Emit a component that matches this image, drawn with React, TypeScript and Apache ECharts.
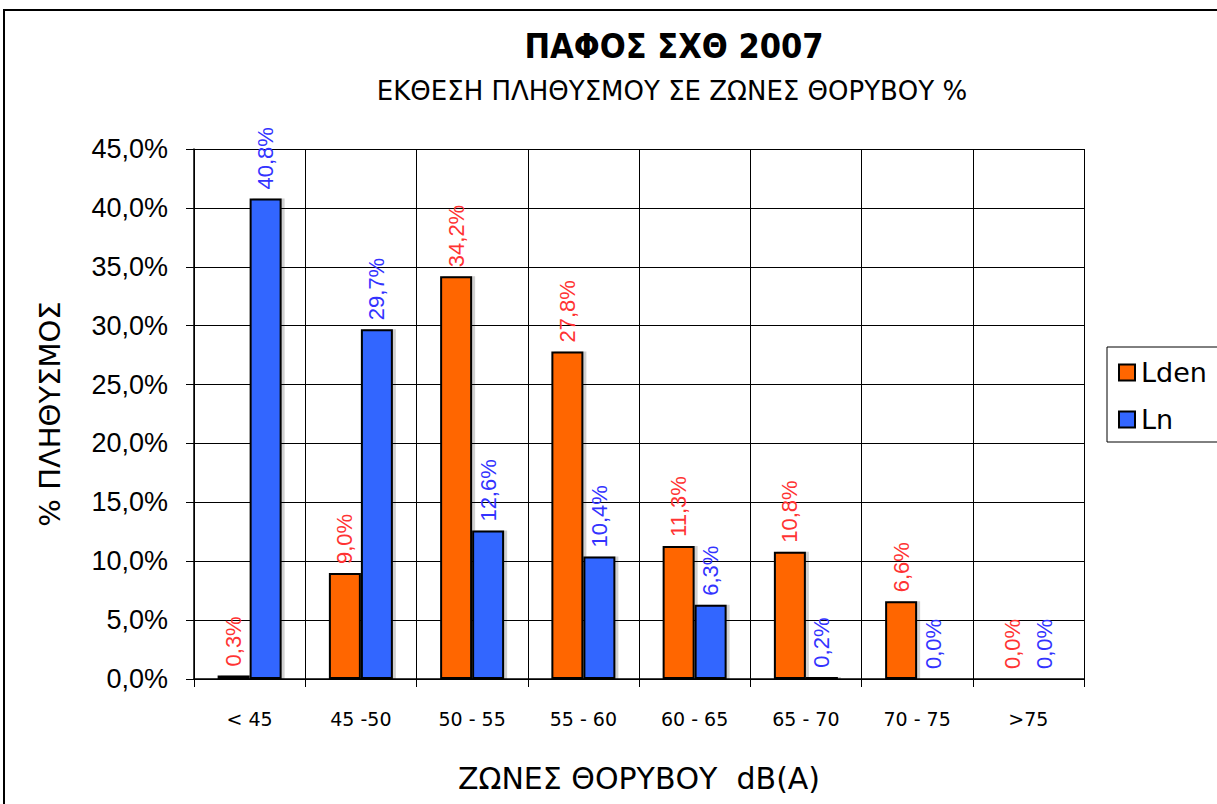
import React, { useEffect, useRef } from "react";
import * as echarts from "echarts";

const categories = ["< 45", "45 -50", "50 - 55", "55 - 60", "60 - 65", "65 - 70", "70 - 75", ">75"];
const ldenValues = [0.3, 9.0, 34.2, 27.8, 11.3, 10.8, 6.6, 0.0];
const lnValues = [40.8, 29.7, 12.6, 10.4, 6.3, 0.2, 0.0, 0.0];
const seriesNames = ["Lden", "Ln"];
const seriesColors = ["#FF6600", "#3366FF"];
const labelColors = ["#FF3333", "#3333FF"];

const fmt = (v: number) => v.toFixed(1).replace(".", ",") + "%";

export default function App() {
  const ref = useRef<HTMLDivElement>(null);
  useEffect(() => {
    if (!ref.current) return;
    const chart = echarts.init(ref.current, undefined, { renderer: "svg" });
    const font = "'Liberation Sans', Arial, sans-serif";
    const wide = "'DejaVu Sans', sans-serif";
    const mkSeries = (i: number, data: number[]) => ({
      name: seriesNames[i],
      type: "bar",
      data,
      barWidth: 32,
      barGap: "0%",
      itemStyle: {
        color: seriesColors[i],
        borderColor: "#000",
        borderWidth: 2,
        shadowColor: "rgba(0,0,0,0.18)",
        shadowOffsetX: 3,
        shadowOffsetY: 0,
        shadowBlur: 0,
      },
      label: {
        show: true,
        position: "top",
        rotate: 90,
        align: "left",
        verticalAlign: "middle",
        distance: 9,
        color: labelColors[i],
        fontFamily: font,
        fontSize: 22,
        formatter: (p: any) => fmt(p.value),
      },
    });
    chart.setOption({
      animation: false,
      backgroundColor: "#fff",
      textStyle: { fontFamily: font },
      title: [
        {
          text: "ΠΑΦΟΣ ΣΧΘ 2007",
          left: 669,
          top: 24,
          textAlign: "center",
          textStyle: { fontFamily: "'DejaVu Sans Condensed', 'DejaVu Sans', sans-serif", fontWeight: "bold", fontSize: 34, color: "#000" },
        },
        {
          text: "ΕΚΘΕΣΗ ΠΛΗΘΥΣΜΟΥ ΣΕ ΖΩΝΕΣ ΘΟΡΥΒΟΥ %",
          left: 667,
          top: 73,
          textAlign: "center",
          textStyle: { fontFamily: wide, fontWeight: "normal", fontSize: 26, color: "#000" },
        },
      ],
      graphic: [
        {
          type: "rect",
          shape: { x: 4, y: 10, width: 1230, height: 820 },
          style: { fill: "none", stroke: "#000", lineWidth: 2 },
          silent: true,
          z: -10,
        },
      ],
      legend: {
        orient: "vertical",
        left: 1107,
        top: 347,
        data: seriesNames,
        icon: "rect",
        itemWidth: 16,
        itemHeight: 16,
        itemGap: 20,
        padding: [12, 40, 9, 11],
        borderColor: "#000",
        borderWidth: 1,
        itemStyle: { borderColor: "#000", borderWidth: 2 },
        textStyle: { fontFamily: wide, fontSize: 27, color: "#000", padding: [0, 0, 0, 1] },
      },
      grid: { left: 194, top: 149, width: 890, height: 530, containLabel: false, outerBoundsMode: "none" },
      xAxis: {
        type: "category",
        data: categories,
        boundaryGap: true,
        name: "ΖΩΝΕΣ ΘΟΡΥΒΟΥ  dB(A)",
        nameLocation: "middle",
        nameGap: 84,
        nameTextStyle: { fontFamily: wide, fontSize: 30, color: "#000" },
        axisLine: { lineStyle: { color: "#000", width: 1.5 } },
        axisTick: { show: true, length: 8, interval: 0, lineStyle: { color: "#000" } },
        splitLine: { show: true, interval: 0, lineStyle: { color: "#000", width: 1 } },
        axisLabel: { interval: 0, margin: 30, fontSize: 19, color: "#000", fontFamily: wide },
      },
      yAxis: {
        type: "value",
        min: 0,
        max: 45,
        interval: 5,
        name: "% ΠΛΗΘΥΣΜΟΣ",
        nameLocation: "middle",
        nameGap: 130,
        nameRotate: 90,
        nameTextStyle: { fontFamily: wide, fontSize: 29, color: "#000" },
        axisLine: { show: true, lineStyle: { color: "#000", width: 1.5 } },
        axisTick: { show: true, length: 8, lineStyle: { color: "#000" } },
        splitLine: { show: true, lineStyle: { color: "#000", width: 1 } },
        axisLabel: { margin: 26, fontSize: 27, color: "#000", fontFamily: font, formatter: (v: number) => fmt(v) },
      },
      series: [mkSeries(0, ldenValues), mkSeries(1, lnValues)],
    });
    return () => chart.dispose();
  }, []);
  return (
    <div
      ref={ref}
      style={{ position: "fixed", left: 0, top: 0, width: 1217, height: 804, background: "#fff" }}
    />
  );
}
